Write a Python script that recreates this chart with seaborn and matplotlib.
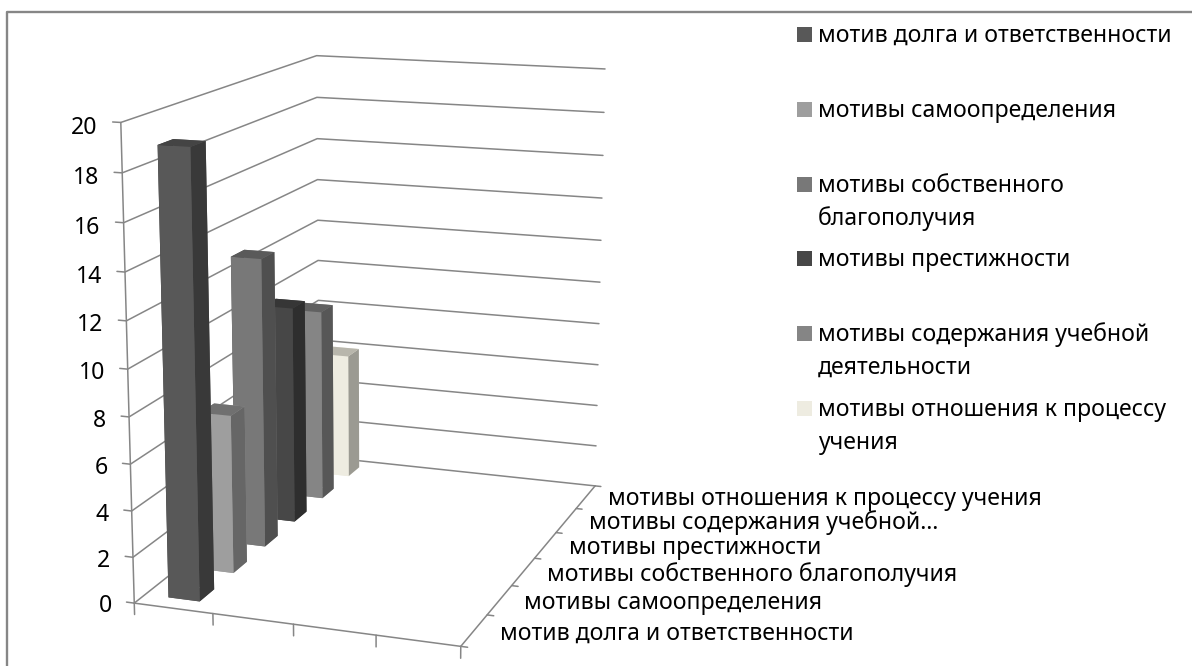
import matplotlib
matplotlib.use('Agg')
import matplotlib.pyplot as plt
from matplotlib.patches import Rectangle
from mpl_toolkits.mplot3d import proj3d
import seaborn as sns

sns.set_theme(style="white")
plt.rcParams['font.family'] = ['Noto Sans', 'DejaVu Sans']

W, H = 1192, 666

categories = ['мотив долга и ответственности', 'мотивы самоопределения', 'мотивы собственного благополучия',
              'мотивы престижности', 'мотивы содержания учебной…', 'мотивы отношения к процессу учения']
legend_labels = ['мотив долга и ответственности', 'мотивы самоопределения', 'мотивы собственного\nблагополучия',
                 'мотивы престижности', 'мотивы содержания учебной\nдеятельности', 'мотивы отношения к процессу\nучения']
values = [19, 7, 13, 10, 9, 6]
z_ticks = list(range(0, 21, 2))
front_colors = ['#585858', '#9e9e9e', '#787878', '#474747', '#858585', '#eeece1']
side_colors = ['#393939', '#666666', '#4f4f4f', '#2e2e2e', '#575757', '#9b9a92']
top_colors = ['#444444', '#707070', '#5a5a5a', '#363636', '#616161', '#b8b6ac']
GRID = '#868686'
FS = 16.6
LW = 1.1

fig = plt.figure(figsize=(W/100, H/100), dpi=100)

# view fitted to the corners of the original 3D box
S, LEFT, BOTTOM = 725.8, 8.99, -29.07
ax = fig.add_axes([LEFT/W, BOTTOM/H, S/W, S/H], projection='3d')
ax.set_xlim(0, 4)
ax.set_ylim(0, 6)
ax.set_zlim(0, 20)
ax.set_xticks([])
ax.set_yticks([])
ax.set_zticks([])
ax.view_init(elev=14.0544, azim=-70.6024)
ax.set_proj_type('persp', focal_length=0.58199)
ax.set_box_aspect((3.1204, 4.7287, 4.4226))
ax.set_axis_off()
ax.computed_zorder = False

def label_3d(x, y, z, txt, ha):
    # flat text placed at the projected position of a data point
    px, py, _ = proj3d.proj_transform(x, y, z, ax.get_proj())
    ax.text2D(px, py, txt, transform=ax.transData, ha=ha, va='center', fontsize=FS, color='black')

# walls
for v in z_ticks:
    ax.plot([-0.1, 0, 0, 4], [0, 0, 6, 6], [v, v, v, v], color=GRID, lw=LW, zorder=1)
ax.plot([0, 0], [0, 0], [0, 20], color=GRID, lw=LW, zorder=1)
ax.plot([0, 4, 4], [0, 0, 6], [0, 0, 0], color=GRID, lw=LW, zorder=1)
for i in range(5):
    ax.plot([i, i], [0, 0], [0, -0.5], color=GRID, lw=LW, zorder=1)
for j in range(7):
    ax.plot([4, 4.08], [j, j], [0, 0], color=GRID, lw=LW, zorder=1)

# bars, back to front
for j in range(5, -1, -1):
    # faces: -z, +z, -y, +y, -x, +x
    cols = [front_colors[j], top_colors[j], front_colors[j], front_colors[j], side_colors[j], side_colors[j]]
    ax.bar3d(0.3, j + 0.3, 0, 0.4, 0.42, values[j], color=cols, shade=False,
             edgecolor='none', linewidth=0, zorder=10 + (5 - j))

for v in z_ticks:
    label_3d(-0.29, 0, v - 0.27, str(v), 'right')
for j, c in enumerate(categories):
    label_3d(4.3, j + 0.5, 0, c, 'left')

# frame and legend in pixel coordinates
ov = fig.add_axes([0, 0, 1, 1], zorder=20)
ov.set_xlim(0, W)
ov.set_ylim(H, 0)
ov.set_xticks([])
ov.set_yticks([])
ov.axis('off')
ov.patch.set_alpha(0)
ov.plot([7, 7, W], [H, 12, 12], color=GRID, lw=1.7)
for i, lab in enumerate(legend_labels):
    y0 = 42 + 74.8*i
    ov.add_patch(Rectangle((797, y0 - 15), 15, 15, color=front_colors[i], lw=0))
    for k, line in enumerate(lab.split('\n')):
        ov.text(818, y0 + 33*k, line, ha='left', va='baseline', fontsize=FS, color='black')

fig.savefig('out.png', dpi=100)
